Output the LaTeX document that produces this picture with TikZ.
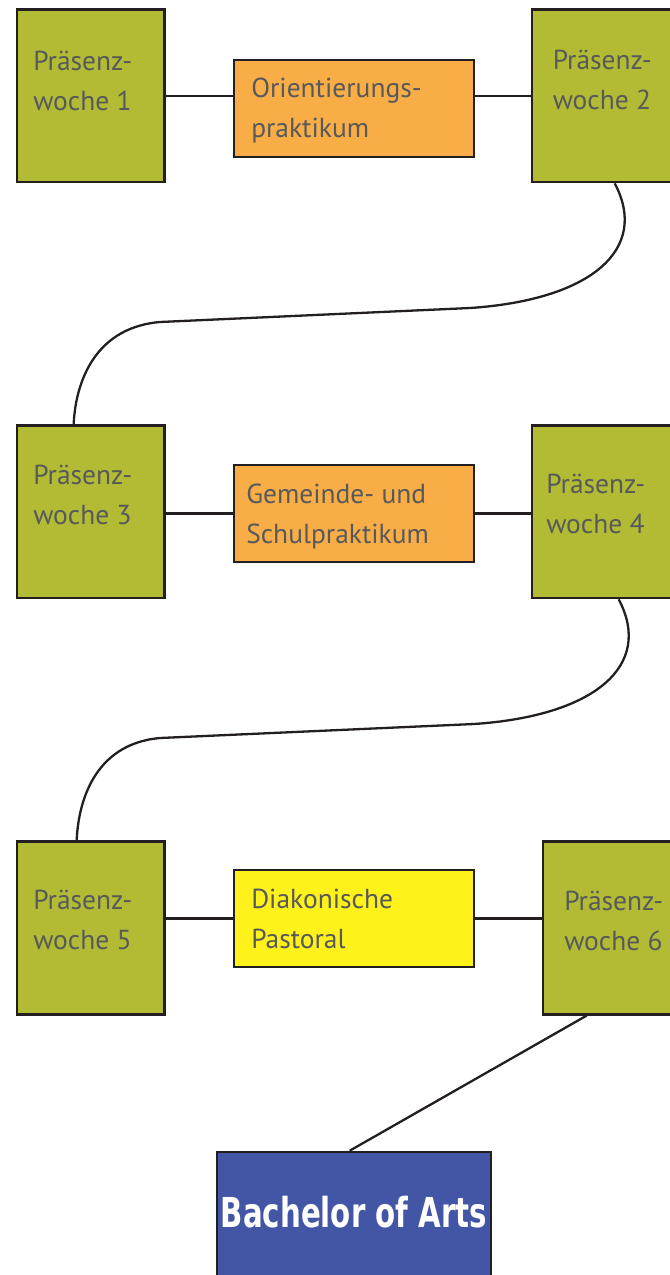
\documentclass[tikz,border=0pt]{standalone}
\usepackage{fontspec}
\usepackage{graphicx}
\setmainfont{PT Sans}
\newfontfamily\bafont{DejaVu Sans}
\usetikzlibrary{calc}
\definecolor{boxgreen}{HTML}{B2BB33}
\definecolor{boxorange}{HTML}{F8AD46}
\definecolor{boxyellow}{HTML}{FFF11A}
\definecolor{boxblue}{HTML}{4356A5}
\definecolor{txtgray}{HTML}{58595B}
\definecolor{edge}{HTML}{231F20}
\newlength\px
\setlength\px{0.75pt}
\tikzset{
  wbox/.style={draw=edge, line width=2.6\px, rectangle, inner sep=0pt,
    minimum width={#1*\px}},
  weekbox/.style={wbox=147.5, fill=boxgreen, minimum height={172.5*\px}},
  praxbox/.style={wbox=240, minimum height={97*\px}},
  lbl/.style={anchor=base west, inner sep=0pt, align=left, text=txtgray,
    font=\fontsize{20.6pt}{30pt}\selectfont},
  conn/.style={draw=edge, line width=2.3\px},
}
\begin{document}
\begin{tikzpicture}[x=0.75pt, y=-0.75pt]
\useasboundingbox (0,0) rectangle (669,1275);
% week boxes
\node[weekbox] (P1) at (90.75,95.75) {};
\node[weekbox] (P2) at (605.75,95.75) {};
\node[weekbox] (P3) at (90.75,511.75) {};
\node[weekbox] (P4) at (605.75,511.75) {};
\node[weekbox] (P5) at (90.75,928) {};
\node[weekbox] (P6) at (616.75,928) {};
% practice boxes
\node[praxbox, fill=boxorange] (O1) at (354,108.5) {};
\node[praxbox, fill=boxorange] (G1) at (354,513.5) {};
\node[praxbox, fill=boxyellow] (D1) at (354,918.5) {};
% final
\node[draw=edge, line width=2.6\px, fill=boxblue, minimum width={274*\px}, minimum height={170*\px}, inner sep=0pt] (BA) at (354,1237) {};
% labels (anchor at baseline of second line)
\node[lbl] (tP1) at (33,110) {Präsenz-\\woche 1};
\node[lbl] (tP2) at (552.5,109) {Präsenz-\\woche 2};
\node[lbl] (tO1) at (251,137) {Orientierungs-\\praktikum};
\node[lbl] (tP3) at (33,524) {Präsenz-\\woche 3};
\node[lbl] (tG1) at (246,543) {Gemeinde- und\\Schulpraktikum};
\node[lbl] (tP4) at (546,533) {Präsenz-\\woche 4};
\node[lbl] (tP5) at (33,949) {Präsenz-\\woche 5};
\node[lbl] (tD1) at (251,948) {Diakonische\\Pastoral};
\node[lbl] (tP6) at (564,950) {Präsenz-\\woche 6};
\node[anchor=base, inner sep=0pt, text=white] (tBA) at (354,1227)
  {\scalebox{0.71}[1]{\bafont\bfseries\fontsize{30.9pt}{34pt}\selectfont Bachelor of Arts}};
% connectors
\draw[conn] (P1.east) -- (P1.east -| O1.west);
\draw[conn] (O1.east |- P2.west) -- (P2.west);
\draw[conn] (P3.east |- G1.west) -- (G1.west);
\draw[conn] (G1.east) -- (G1.east -| P4.west);
\draw[conn] (P5.east |- D1.west) -- (D1.west);
\draw[conn] (D1.east) -- (D1.east -| P6.west);
\coordinate (s1) at ($(P2.south west)+(84,0)$);
\coordinate (e1) at ($(P3.north west)+(58,0)$);
\draw[conn] (s1) .. controls (650,250) and (590,300) .. (470,308)
  -- (160,322) .. controls (90,328) and (75,390) .. (e1);
\coordinate (s2) at ($(P4.south west)+(88,0)$);
\coordinate (e2) at ($(P5.north west)+(61,0)$);
\draw[conn] (s2) .. controls (654,666) and (594,716) .. (474,724)
  -- (160,738) .. controls (92,744) and (78,806) .. (e2);
\coordinate (s3) at ($(P6.south west)+(45,0)$);
\coordinate (e3) at ($(BA.north west)+(134,0)$);
\draw[conn] (s3) -- (e3);
\end{tikzpicture}
\end{document}
